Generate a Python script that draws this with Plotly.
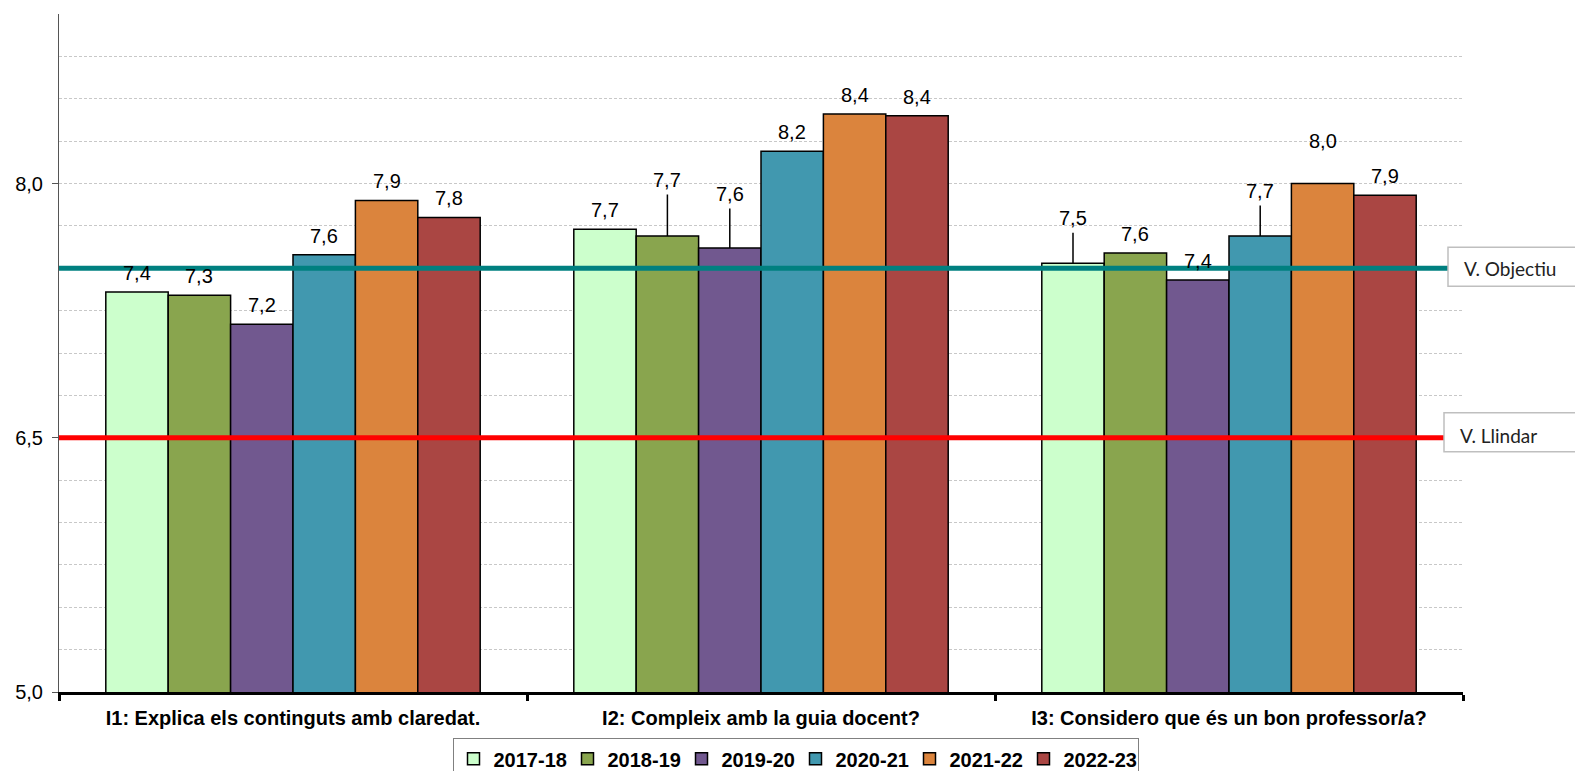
import plotly.graph_objects as go

questions = ["I1: Explica els continguts amb claredat.",
             "I2: Compleix amb la guia docent?",
             "I3: Considero que és un bon professor/a?"]
years = ["2017-18", "2018-19", "2019-20", "2020-21", "2021-22", "2022-23"]

# one list per course, values for I1, I2, I3
v_2017_18 = [7.36, 7.73, 7.53]
v_2018_19 = [7.34, 7.69, 7.59]
v_2019_20 = [7.17, 7.62, 7.43]
v_2020_21 = [7.58, 8.19, 7.69]
v_2021_22 = [7.90, 8.41, 8.00]
v_2022_23 = [7.80, 8.40, 7.93]
series = [v_2017_18, v_2018_19, v_2019_20, v_2020_21, v_2021_22, v_2022_23]

objectiu = 7.5
llindar = 6.5

colors = ["#CCFFCC", "#89A54E", "#71588F", "#4198AF", "#DB843D", "#AA4643"]
font = "Arial, Liberation Sans, sans-serif"

# labels that Excel moved up (pixels above bar top), some with a leader line
label_lift = {(1, 1): 56, (1, 2): 54, (2, 0): 45, (2, 3): 45, (2, 4): 43}
leaders = {(1, 1), (1, 2), (2, 0), (2, 3)}

w = 0.8 / len(years)

fig = go.Figure()
annotations = []
for k, (year, vals) in enumerate(zip(years, series)):
    off = -0.4 + k * w
    fig.add_trace(go.Bar(x=questions, y=vals, name=year, width=w, offset=off,
                         marker=dict(color=colors[k], line=dict(color="black", width=1.5))))
    for i, v in enumerate(vals):
        txt = f"{v:.1f}".replace(".", ",")
        xpos = i + off + w / 2
        lift = label_lift.get((i, k), 19)
        if (i, k) in leaders:
            annotations.append(dict(x=xpos, y=v, xref="x", yref="y", text=txt,
                                    showarrow=True, ax=0, ay=-lift, arrowhead=0,
                                    arrowwidth=1.5, arrowcolor="black", standoff=0,
                                    borderpad=3, font=dict(family=font, size=20, color="black")))
        else:
            annotations.append(dict(x=xpos, y=v, xref="x", yref="y", text=txt,
                                    showarrow=False, yanchor="middle", yshift=lift,
                                    font=dict(family=font, size=20, color="black")))

# reference lines
fig.add_shape(type="line", xref="paper", x0=0, x1=1, yref="y", y0=objectiu, y1=objectiu,
              line=dict(color="#008080", width=5), layer="above")
fig.add_shape(type="line", xref="paper", x0=0, x1=1, yref="y", y0=llindar, y1=llindar,
              line=dict(color="#FF0000", width=5), layer="above")

# label boxes at the right, running off the edge like in the original
for val, left, bot, top in [(objectiu, -15, -18, 21), (llindar, -19, -14, 25)]:
    fig.add_shape(type="rect", xref="paper", xsizemode="pixel", xanchor=1, x0=left, x1=300,
                  yref="y", ysizemode="pixel", yanchor=val, y0=bot, y1=top,
                  line=dict(color="#BFBFBF", width=1.5), fillcolor="white", layer="above")

box_font = dict(family="Lato, Open Sans, sans-serif", size=19, color="#222222")
annotations.append(dict(x=1, xref="paper", y=objectiu, yref="y", text="V. Objectiu",
                        showarrow=False, xanchor="left", yanchor="middle", xshift=-1,
                        font=box_font))
annotations.append(dict(x=1, xref="paper", y=llindar, yref="y", text="V. Llindar",
                        showarrow=False, xanchor="left", yanchor="middle", xshift=-5, yshift=2,
                        font=box_font))

# page body has an 8px margin, so the figure is 8px smaller and shifted
fig.update_layout(
    width=1575, height=763,
    margin=dict(l=51, r=120, t=6, b=79),
    paper_bgcolor="white", plot_bgcolor="white",
    barmode="group", bargap=0.2,
    separators=",.",
    font=dict(family=font, size=20, color="black"),
    annotations=annotations,
    showlegend=True,
    legend=dict(orientation="h", xref="container", x=0.5, xanchor="center",
                yref="container", y=0.043, yanchor="top",
                bordercolor="#808080", borderwidth=1, bgcolor="white",
                font=dict(family=font, size=20, color="black", weight="bold"),
                itemwidth=30, entrywidth=69, entrywidthmode="pixels",
                traceorder="normal"),
    xaxis=dict(type="category", range=[-0.5, 2.5], tickson="boundaries",
               ticks="outside", ticklen=6, tickwidth=3, tickcolor="black",
               showline=True, linecolor="black", linewidth=3, showgrid=False,
               ticklabelstandoff=6,
               tickfont=dict(family=font, size=20, color="black", weight="bold")),
    yaxis=dict(range=[5, 9], tick0=5, dtick=1.5, tickformat=".1f",
               ticks="outside", ticklen=6, tickcolor="#555555",
               showline=True, linecolor="#555555", linewidth=1,
               showgrid=True, gridcolor="#C8C8C8", griddash="3px,2px",
               zeroline=False, ticklabelstandoff=5,
               tickfont=dict(family=font, size=20, color="black"),
               minor=dict(tick0=5, dtick=0.25, showgrid=True, gridcolor="#C8C8C8",
                          griddash="3px,2px", ticks="")),
)

fig.write_html("out.html")
